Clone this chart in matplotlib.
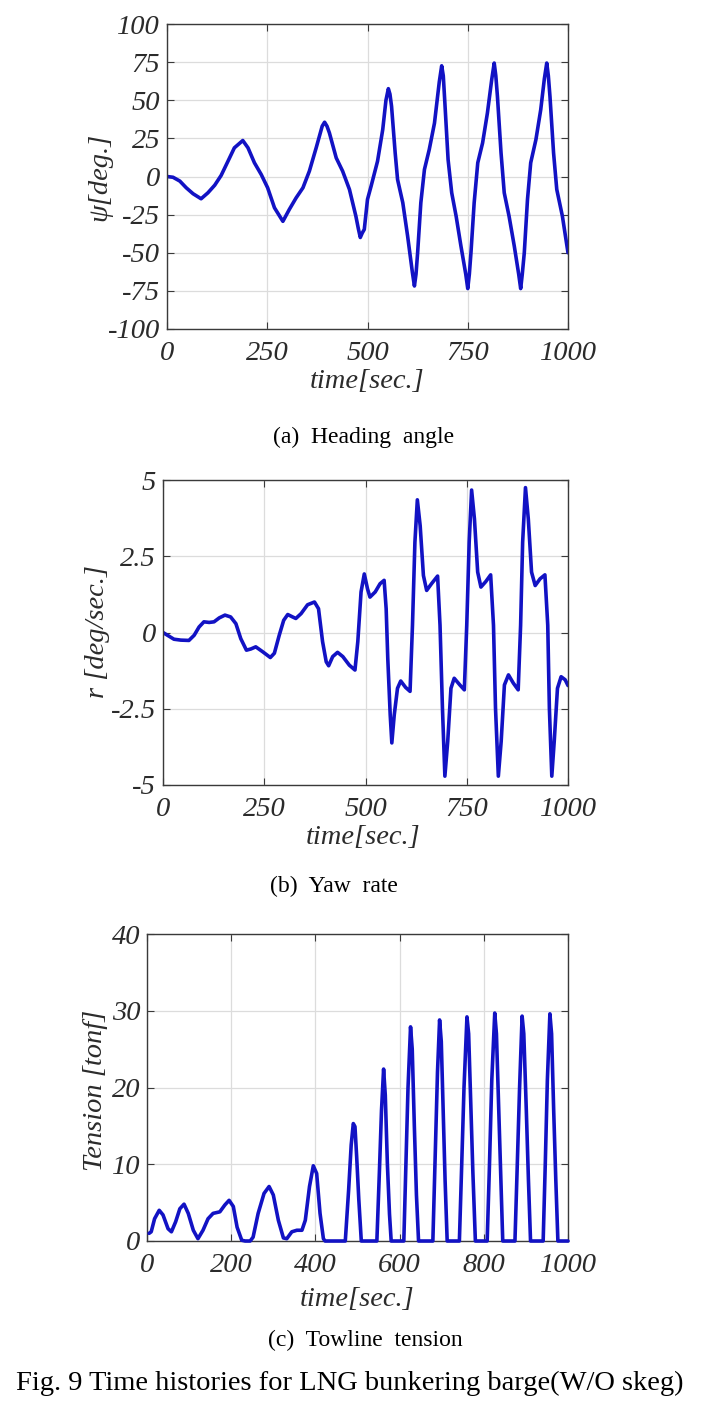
import matplotlib
matplotlib.use('Agg')
import matplotlib.pyplot as plt

plt.rcParams['axes.unicode_minus'] = False
plt.rcParams['font.family'] = ['Liberation Serif', 'DejaVu Serif']

# (a) heading angle
t_a = [0, 15, 32, 48, 65, 85, 102, 119, 135, 152, 168, 189, 202, 218, 235, 251, 268, 289,
       305, 322, 339, 355, 372, 387, 393, 399, 405, 422, 438, 455, 471, 477, 482, 487, 492,
       500, 509, 525, 538, 546, 552, 556, 560, 569, 575, 588, 600, 612, 617, 621, 625, 633,
       642, 654, 667, 679, 685, 689, 693, 701, 710, 721, 733, 745, 750, 754, 758, 766, 775,
       787, 799, 810, 816, 820, 824, 833, 841, 853, 866, 877, 882, 886, 891, 899, 907, 920,
       932, 941, 947, 951, 955, 964, 972, 986, 1000]
psi = [0, -0.5, -3, -7.4, -11.3, -14.6, -10.7, -5.7, 0.7, 10, 18.8, 23.6, 18.8, 9, 1.3, -7.4,
       -20.5, -29.4, -21.6, -14, -7.4, 3.5, 18.8, 33, 35.6, 33, 28.6, 12.2, 3.5, -8.5, -26,
       -34, -40, -37, -34.7, -15, -6.3, 10, 30.8, 50, 57.6, 54, 46, 15.5, -2, -17.2, -39,
       -63, -71.8, -64, -50, -17.2, 4.6, 17.7, 35, 62, 72.6, 66, 48, 11, -10.7, -26, -45.6,
       -64, -73.5, -64, -50, -17.2, 9, 22, 41.6, 64, 74.4, 66, 52.6, 15.5, -10.7, -26, -45.6,
       -64, -73.5, -64, -50, -15, 9, 24.2, 43.8, 64, 74.4, 66, 52.6, 15.5, -8.5, -26, -50]

# (b) yaw rate
t_b = [0, 11, 27, 44, 64, 77, 89, 101, 114, 126, 139, 153, 167, 180, 192, 206, 217, 229, 246,
       265, 275, 287, 298, 308, 320, 328, 341, 357, 374, 384, 394, 403, 409, 419, 431, 444,
       460, 474, 481, 489, 497, 505, 511, 524, 536, 546, 551, 555, 561, 565, 571, 579, 587,
       599, 610, 616, 622, 628, 635, 643, 651, 663, 678, 684, 690, 696, 703, 711, 719, 733,
       744, 750, 756, 762, 769, 777, 785, 797, 809, 816, 821, 828, 835, 843, 853, 865, 877,
       883, 888, 895, 902, 910, 919, 931, 943, 950, 954, 960, 966, 974, 983, 993, 1000]
r = [0, -0.09, -0.22, -0.25, -0.26, -0.09, 0.18, 0.35, 0.33, 0.35, 0.48, 0.57, 0.51, 0.29,
     -0.2, -0.58, -0.54, -0.47, -0.63, -0.82, -0.68, -0.09, 0.4, 0.59, 0.51, 0.46, 0.62, 0.91,
     1.0, 0.78, -0.3, -0.96, -1.09, -0.79, -0.65, -0.79, -1.07, -1.23, -0.3, 1.33, 1.92, 1.43,
     1.16, 1.33, 1.6, 1.71, 0.78, -0.85, -2.7, -3.62, -2.7, -1.83, -1.59, -1.8, -1.93, 0.24,
     2.96, 4.35, 3.5, 1.87, 1.38, 1.6, 1.85, 0.24, -2.48, -4.71, -3.57, -1.83, -1.5, -1.72,
     -1.88, 0.24, 2.96, 4.67, 3.72, 1.98, 1.49, 1.67, 1.89, 0.24, -2.48, -4.71, -3.57, -1.72,
     -1.39, -1.66, -1.88, 0.24, 2.96, 4.75, 3.72, 1.98, 1.54, 1.76, 1.89, 0.24, -2.48, -4.71,
     -3.57, -1.83, -1.45, -1.55, -1.74]

# (c) towline tension
t_c = [5, 10, 18, 29, 38, 50, 58, 68, 78, 88, 98, 110, 121, 133, 145, 157, 173, 185, 195, 205,
       214, 225, 233, 245, 252, 264, 278, 290, 300, 312, 324, 332, 344, 356, 368, 376, 386,
       395, 403, 411, 419, 423, 471, 479, 485, 490, 494, 498, 503, 509,
       546, 552, 557, 562, 566, 571, 576, 580,
       610, 615, 620, 626, 630, 635, 640, 645,
       679, 684, 690, 695, 699, 704, 708, 713,
       742, 747, 753, 760, 764, 769, 774, 780,
       808, 813, 819, 826, 830, 835, 840, 845,
       874, 879, 885, 891, 895, 901, 906, 911,
       941, 946, 951, 957, 961, 966, 971, 976, 1000]
tension = [1.0, 1.2, 2.9, 4.0, 3.4, 1.6, 1.2, 2.5, 4.2, 4.8, 3.6, 1.4, 0.3, 1.4, 2.9, 3.6, 3.8,
           4.7, 5.3, 4.5, 1.8, 0.1, 0, 0, 0.5, 3.6, 6.2, 7.1, 6.0, 2.7, 0.4, 0.3, 1.2, 1.4, 1.4,
           2.7, 7.1, 9.8, 8.8, 3.6, 0.3, 0, 0, 6.7, 12.5, 15.3, 14.9, 11, 5.5, 0,
           0, 9, 17, 22.4, 19, 10, 3.5, 0,
           0, 10, 20, 27.9, 25, 15, 6, 0,
           0, 10, 22, 28.8, 26, 16, 8, 0,
           0, 9, 20, 29.2, 27, 18, 9, 0,
           0, 9, 21, 29.7, 27, 18, 9, 0,
           0, 9, 20, 29.3, 27, 17, 8, 0,
           0, 10, 21, 29.6, 27, 17, 8, 0, 0]

xt_ab = [0, 250, 500, 750, 1000]
xt_c = [0, 200, 400, 600, 800, 1000]
yt_a = [-100, -75, -50, -25, 0, 25, 50, 75, 100]
yt_b = [-5, -2.5, 0, 2.5, 5]
yt_b_lbl = ['-5', '-2.5', '0', '2.5', '5']
yt_c = [0, 10, 20, 30, 40]

W, H = 701, 1403
fig = plt.figure(figsize=(W / 100, H / 100), dpi=100)

LINE = '#1212c4'
TXT = '#2b2b2b'
tfont = dict(family='Liberation Serif', style='italic', size=20.5, color=TXT)
lkw = dict(color=LINE, lw=2.6, solid_joinstyle='round', solid_capstyle='round')


def make_ax(l, t, rt, b):
    ax = fig.add_axes([l / W, 1 - b / H, (rt - l) / W, (b - t) / H])
    ax.grid(True, color='#dcdcdc', lw=0.9)
    ax.set_axisbelow(True)
    for s in ax.spines.values():
        s.set_color('#3a3a3a')
        s.set_linewidth(1.0)
    ax.tick_params(direction='in', length=5, width=0.8, color='#3a3a3a',
                   top=True, right=True, labelsize=20.5, labelcolor=TXT)
    ax.tick_params(axis='x', pad=9)
    ax.tick_params(axis='y', pad=5)
    return ax


def style_labels(ax):
    for lb in ax.get_xticklabels() + ax.get_yticklabels():
        lb.set_fontstyle('italic')
        lb.set_family('Liberation Serif')


def ftext(x, y, s, **kw):
    fig.text(x / W, 1 - y / H, s, ha='center', va='center', **kw)


# panel a
ax1 = make_ax(167, 24, 568, 329)
ax1.plot(t_a, psi, **lkw)
ax1.set_xlim(0, 1000)
ax1.set_ylim(-100, 100)
ax1.set_xticks(xt_ab)
ax1.set_yticks(yt_a)
style_labels(ax1)
ftext(367, 381, 'time[sec.]', **tfont)
ftext(100, 177, 'ψ[deg.]', rotation=90, **tfont)
ftext(364, 437, '(a)  Heading  angle', size=17, color='black')

# panel b
ax2 = make_ax(163, 480, 568, 785)
ax2.plot(t_b, r, **lkw)
ax2.set_xlim(0, 1000)
ax2.set_ylim(-5, 5)
ax2.set_xticks(xt_ab)
ax2.set_yticks(yt_b)
ax2.set_yticklabels(yt_b_lbl)
style_labels(ax2)
ftext(363, 838, 'time[sec.]', **tfont)
ftext(97, 632, 'r [deg/sec.]', rotation=90, **tfont)
ftext(334, 886, '(b)  Yaw  rate', size=17, color='black')

# panel c
ax3 = make_ax(147, 934, 568, 1241)
ax3.plot(t_c, tension, clip_on=False, zorder=3, **lkw)
ax3.set_xlim(0, 1000)
ax3.set_ylim(0, 40)
ax3.set_xticks(xt_c)
ax3.set_yticks(yt_c)
style_labels(ax3)
ftext(357, 1300, 'time[sec.]', **tfont)
ftext(95, 1090, 'Tension [tonf]', rotation=90, **tfont)
ftext(365, 1340, '(c)  Towline  tension', size=17, color='black')

ftext(350, 1383, 'Fig. 9 Time histories for LNG bunkering barge(W/O skeg)', size=20.5,
      color='black')

fig.savefig('out.png', dpi=100)
